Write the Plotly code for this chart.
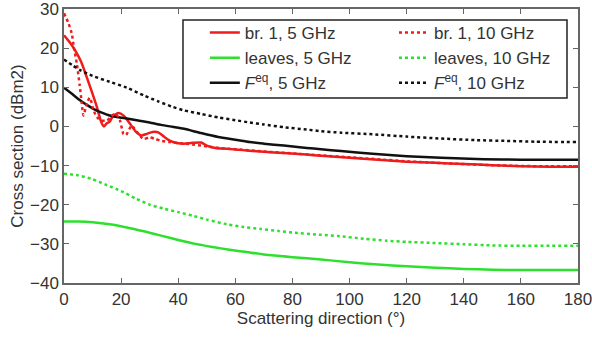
import plotly.graph_objects as go

# ---- data ----
br1_5_x = [0, 2, 4, 6, 8, 10, 11.5, 13, 14, 15, 16, 17, 19, 21, 23, 25, 27, 29, 31, 33, 35, 37, 40, 42, 45, 48, 50, 53, 57, 60, 65, 70, 77, 85, 90, 100, 110, 120, 130, 140, 150, 160, 170, 180]
br1_5_y = [23.3, 21.5, 19.3, 16.5, 12.5, 8.3, 5.0, 1.2, 0.0, 0.8, 1.2, 2.5, 3.4, 2.7, 0.8, -1.2, -2.3, -1.9, -1.4, -1.5, -2.6, -3.6, -4.3, -4.4, -4.2, -4.1, -4.9, -5.5, -5.7, -5.9, -6.2, -6.5, -6.8, -7.2, -7.5, -8.0, -8.5, -9.0, -9.3, -9.6, -9.9, -10.2, -10.3, -10.3]

br1_10_x = [0, 1.5, 2.7, 3.5, 4.5, 5.5, 6.2, 6.8, 7.5, 8.3, 9.1, 10, 11, 12, 13, 15, 16.5, 18, 19.6, 20.8, 21.7, 23.7, 25.5, 27.8, 30, 32, 34, 37, 42, 45, 48, 52, 55, 60, 70, 80, 90, 100, 110, 120, 130, 140, 150, 160, 170, 180]
br1_10_y = [28.9, 26.5, 23.8, 20.0, 16.0, 10.5, 6.0, 2.8, 4.5, 6.5, 7.3, 5.0, 3.0, 2.0, 1.5, 1.5, 2.5, 3.3, 1.5, -1.9, -2.2, 0.2, -1.4, -3.2, -2.8, -3.2, -3.7, -4.0, -4.4, -4.6, -4.9, -5.3, -5.6, -5.8, -6.4, -6.9, -7.4, -7.9, -8.4, -8.9, -9.3, -9.6, -9.9, -10.1, -10.2, -10.2]

leaves_5_x = [0, 5, 10, 16, 22, 28, 34, 40, 46, 52, 58, 64, 70, 80, 90, 100, 110, 120, 130, 140, 150, 160, 180]
leaves_5_y = [-24.3, -24.3, -24.5, -25.0, -25.8, -26.8, -27.9, -29.0, -30.0, -30.8, -31.5, -32.1, -32.7, -33.4, -34.0, -34.7, -35.3, -35.7, -36.1, -36.4, -36.6, -36.7, -36.7]

leaves_10_x = [0, 5, 10, 15, 20, 25, 30, 35, 40, 45, 50, 57, 63, 69, 75, 80, 90, 96, 105, 113, 120, 130, 140, 150, 160, 170, 180]
leaves_10_y = [-12.1, -12.5, -13.5, -15.0, -16.5, -18.4, -20.0, -21.0, -21.9, -22.8, -23.8, -25.0, -25.7, -26.2, -26.7, -27.1, -27.7, -28.0, -28.7, -29.2, -29.5, -29.8, -30.1, -30.4, -30.5, -30.5, -30.5]

feq_5_x = [0, 3, 5.6, 8, 10.3, 13, 16, 22, 26, 30, 34, 38, 42, 48, 54, 60, 65, 70, 77, 85, 90, 97, 108, 120, 132, 147, 160, 170, 180]
feq_5_y = [9.9, 8.2, 6.7, 5.5, 4.5, 3.6, 2.8, 2.0, 1.5, 1.0, 0.4, -0.1, -0.6, -1.7, -2.7, -3.4, -4.0, -4.4, -4.9, -5.5, -5.8, -6.3, -7.0, -7.6, -8.0, -8.4, -8.5, -8.5, -8.5]

feq_10_x = [0, 3, 5.6, 10, 16, 22, 28, 33, 38, 42, 48, 54, 60, 65, 70, 77, 85, 90, 97, 108, 120, 132, 144, 155, 165, 180]
feq_10_y = [17.1, 15.6, 14.4, 12.9, 11.4, 9.9, 7.9, 6.4, 5.0, 4.1, 3.2, 2.3, 1.6, 1.0, 0.5, -0.2, -0.8, -1.2, -1.6, -2.0, -2.6, -3.1, -3.5, -3.7, -3.9, -4.0]

x_ticks = [0, 20, 40, 60, 80, 100, 120, 140, 160, 180]
y_ticks = [-40, -30, -20, -10, 0, 10, 20, 30]

RED = "#ee1c1c"
GREEN = "#2ee02e"
BLACK = "#111111"
FONT = "Liberation Sans, Arial, sans-serif"
TXT = "#333333"
AX = "#666666"

fig = go.Figure()
fig.add_trace(go.Scatter(x=br1_5_x, y=br1_5_y, mode="lines", name="br. 1, 5 GHz", legend="legend",
                         line=dict(color=RED, width=2.5, shape="spline", smoothing=0.6)))
fig.add_trace(go.Scatter(x=leaves_5_x, y=leaves_5_y, mode="lines", name="leaves, 5 GHz", legend="legend",
                         line=dict(color=GREEN, width=2.5, shape="spline", smoothing=0.6)))
fig.add_trace(go.Scatter(x=feq_5_x, y=feq_5_y, mode="lines", name="<i>F</i><sup>eq</sup>, 5 GHz", legend="legend",
                         line=dict(color=BLACK, width=2.5, shape="spline", smoothing=0.6)))
fig.add_trace(go.Scatter(x=br1_10_x, y=br1_10_y, mode="lines", name="br. 1, 10 GHz", legend="legend2",
                         line=dict(color=RED, width=2.5, dash="dot", shape="spline", smoothing=0.6)))
fig.add_trace(go.Scatter(x=leaves_10_x, y=leaves_10_y, mode="lines", name="leaves, 10 GHz", legend="legend2",
                         line=dict(color=GREEN, width=2.5, dash="dot", shape="spline", smoothing=0.6)))
fig.add_trace(go.Scatter(x=feq_10_x, y=feq_10_y, mode="lines", name="<i>F</i><sup>eq</sup>, 10 GHz", legend="legend2",
                         line=dict(color=BLACK, width=2.5, dash="dot", shape="spline", smoothing=0.6)))

axis_common = dict(
    showline=True, linecolor=AX, linewidth=1.5, mirror="ticks",
    ticks="inside", ticklen=5, tickwidth=1.2, tickcolor=AX,
    showgrid=False, zeroline=False, ticklabeloverflow="allow", automargin=False,
    tickfont=dict(family=FONT, size=17, color=TXT),
)

leg_common = dict(
    orientation="v", xanchor="left", yanchor="top",
    bgcolor="rgba(0,0,0,0)", borderwidth=0,
    font=dict(family=FONT, size=17, color=TXT),
    tracegroupgap=0,
)

fig.update_layout(
    width=592, height=337,
    margin=dict(l=64, r=14, t=9, b=54, autoexpand=False),
    paper_bgcolor="white", plot_bgcolor="white",
    font=dict(family=FONT, size=17, color=TXT),
    xaxis=dict(range=[0, 180], tickvals=x_ticks,
               title=dict(text="Scattering direction (°)", font=dict(family=FONT, size=17, color=TXT), standoff=4),
               **axis_common),
    yaxis=dict(range=[-40, 30], tickvals=y_ticks,
               title=dict(text="Cross section (dBm2)", font=dict(family=FONT, size=17, color=TXT), standoff=2),
               **axis_common),
    legend=dict(x=0.274, y=0.978, **leg_common),
    legend2=dict(x=0.642, y=0.978, **leg_common),
    shapes=[dict(type="rect", xref="paper", yref="paper",
                 x0=0.2315, x1=0.9786, y0=0.6752, y1=0.9599,
                 line=dict(color="#222222", width=1.5), fillcolor="white", layer="above")],
    showlegend=True,
)

fig.write_html("out.html")
